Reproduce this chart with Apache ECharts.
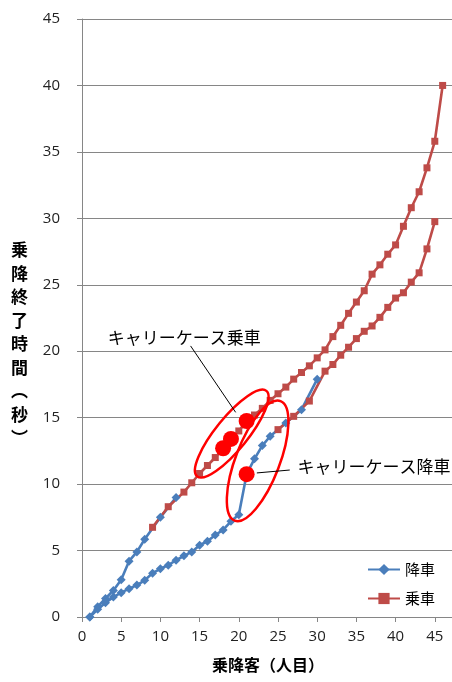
<!DOCTYPE html>
<html>
<head>
<meta charset="utf-8">
<script src="https://cdn.jsdelivr.net/npm/echarts@6/dist/echarts.min.js"></script>
<style>
  html, body { margin: 0; padding: 0; background: #ffffff; }
  #chart { width: 452px; height: 682px; }
</style>
</head>
<body>
<div id="chart"></div>
<script>
// ---- Data: passenger order (人目) vs. completion time (秒) ----
// Run 1: alighting passengers (降車)
const alightRun1X = [1, 2, 3, 4, 5, 6, 7, 8, 10, 12];
const alightRun1Y = [0, 0.78, 1.4, 2.0, 2.8, 4.2, 4.9, 5.85, 7.5, 9.0];
// Run 1: boarding passengers (乗車)
const boardRun1X = [9, 11, 13, 14, 15, 16, 17, 18, 19, 20, 21, 22, 23, 24, 25, 26, 27, 28, 29, 30,
                    31, 32, 33, 34, 35, 36, 37, 38, 39, 40, 41, 42, 43, 44, 45, 46];
const boardRun1Y = [6.75, 8.3, 9.4, 10.1, 10.8, 11.4, 12.0, 12.7, 13.4, 14.0, 14.7, 15.2, 15.7, 16.3, 16.8, 17.3, 17.9, 18.4, 18.9, 19.5,
                    20.1, 21.1, 21.95, 22.85, 23.7, 24.55, 25.8, 26.5, 27.3, 28.0, 29.4, 30.8, 32.0, 33.8, 35.8, 40.0];
// Run 2: alighting passengers (降車)
const alightRun2X = [1, 2, 3, 4, 5, 6, 7, 8, 9, 10, 11, 12, 13, 14, 15, 16, 17, 18, 19, 20,
                     21, 22, 23, 24, 26, 28, 30];
const alightRun2Y = [0, 0.58, 1.08, 1.5, 1.83, 2.13, 2.4, 2.76, 3.3, 3.63, 3.9, 4.27, 4.6, 4.9, 5.4, 5.7, 6.17, 6.55, 7.2, 7.7,
                     10.75, 11.9, 12.9, 13.6, 14.6, 15.6, 17.9];
// Run 2: boarding passengers (乗車)
const boardRun2X = [25, 27, 29, 31, 32, 33, 34, 35, 36, 37, 38, 39, 40, 41, 42, 43, 44, 45];
const boardRun2Y = [14.1, 15.1, 16.25, 18.5, 19.0, 19.7, 20.3, 20.95, 21.5, 21.9, 22.55, 23.3, 24.0, 24.4, 25.2, 25.9, 27.7, 29.75];

// Passengers with a carry case (キャリーケース)
const caseBoardX = [18, 19, 21];
const caseBoardY = [12.7, 13.4, 14.75];
const caseAlightX = [21];
const caseAlightY = [10.75];

// Axis ticks
const xTicks = { min: 0, max: 50, step: 5 };
const yTicks = { min: 0, max: 45, step: 5 };

const seriesNames = ['降車', '乗車'];
const yTitle = '乗\n降\n終\n了\n時\n間\n︵\n秒\n︶';

const pairs = (xs, ys) => xs.map((x, i) => [x, ys[i]]);

const BLUE = '#4A7EBB';
const RED = '#BE4B48';
const MARK = '#FF0000';
const CJK = '"Noto Sans CJK JP", "Noto Sans", sans-serif';
const NUM = '"Open Sans", "Noto Sans", sans-serif';

function lineSeries(name, color, symbol, size, data) {
  return {
    name: name,
    type: 'line',
    data: data,
    symbol: symbol,
    symbolSize: size,
    showSymbol: true,
    smooth: false,
    lineStyle: { color: color, width: 2.6 },
    itemStyle: { color: color, borderWidth: 0 },
    emphasis: { disabled: true },
    animation: false
  };
}

const chart = echarts.init(document.getElementById('chart'), null, { renderer: 'canvas' });

chart.setOption({
  backgroundColor: '#ffffff',
  animation: false,
  grid: { left: 82, top: 19, bottom: 65, right: -22, containLabel: false, outerBoundsMode: 'none' },
  legend: {
    data: seriesNames,
    orient: 'vertical',
    left: 362,
    top: 557,
    itemWidth: 32,
    itemHeight: 14,
    itemGap: 14,
    textStyle: { fontFamily: CJK, fontSize: 15, color: '#000' }
  },
  xAxis: {
    type: 'value',
    min: xTicks.min,
    max: xTicks.max,
    interval: xTicks.step,
    name: '乗降客（人目）',
    nameLocation: 'middle',
    nameGap: 40,
    nameTextStyle: { fontFamily: CJK, fontSize: 16, fontWeight: 'bold', color: '#000', padding: [0, 20, 0, 0] },
    axisLine: { onZero: false, lineStyle: { color: '#868686', width: 1 } },
    axisTick: { show: true, length: 5, lineStyle: { color: '#868686' } },
    axisLabel: { fontFamily: NUM, fontSize: 15, color: '#222', margin: 12 },
    splitLine: { show: false }
  },
  yAxis: {
    type: 'value',
    min: yTicks.min,
    max: yTicks.max,
    interval: yTicks.step,
    axisLine: { show: true, lineStyle: { color: '#868686', width: 1 } },
    axisTick: { show: true, length: 5, lineStyle: { color: '#868686' } },
    axisLabel: { fontFamily: NUM, fontSize: 15, color: '#222', margin: 22 },
    splitLine: { show: true, lineStyle: { color: '#868686', width: 1 } }
  },
  series: [
    lineSeries('降車', BLUE, 'diamond', 9, pairs(alightRun1X, alightRun1Y)),
    lineSeries('降車', BLUE, 'diamond', 9, pairs(alightRun2X, alightRun2Y)),
    lineSeries('乗車', RED, 'rect', 7, pairs(boardRun1X, boardRun1Y)),
    lineSeries('乗車', RED, 'rect', 7, pairs(boardRun2X, boardRun2Y)),
    {
      name: 'キャリーケース',
      type: 'scatter',
      data: pairs(caseBoardX, caseBoardY).concat(pairs(caseAlightX, caseAlightY)),
      symbol: 'circle',
      symbolSize: 16,
      itemStyle: { color: MARK, opacity: 1 },
      emphasis: { disabled: true },
      z: 5
    }
  ]
});

// ---- Callouts: ellipses around the carry-case passengers, with labels ----
// centre / label anchors in data units; radii in pixels; tilt in degrees
const callouts = [
  { text: 'キャリーケース乗車', center: [19.1, 13.8], rx: 55, ry: 16, tilt: 51,
    label: [3.3, 21.0], leader: [[13.85, 20.4], [19.6, 15.4]] },
  { text: 'キャリーケース降車', center: [22.4, 11.75], rx: 64, ry: 22, tilt: 69,
    label: [27.5, 11.3], leader: [[22.3, 10.84], [26.5, 11.06]] }
];

const toPx = (p) => chart.convertToPixel({ xAxisIndex: 0, yAxisIndex: 0 }, p);

const elements = [];
callouts.forEach((c) => {
  const ctr = toPx(c.center);
  elements.push({
    type: 'ellipse',
    x: ctr[0], y: ctr[1],
    rotation: c.tilt * Math.PI / 180,
    shape: { cx: 0, cy: 0, rx: c.rx, ry: c.ry },
    style: { fill: 'none', stroke: MARK, lineWidth: 2.5 },
    z: 10, silent: true
  });
  const a = toPx(c.leader[0]);
  const b = toPx(c.leader[1]);
  elements.push({
    type: 'line',
    shape: { x1: a[0], y1: a[1], x2: b[0], y2: b[1] },
    style: { stroke: '#000', lineWidth: 1 },
    z: 10, silent: true
  });
  const t = toPx(c.label);
  elements.push({
    type: 'text',
    x: t[0], y: t[1],
    style: { text: c.text, font: '17px ' + CJK, fill: '#000', textAlign: 'left', textVerticalAlign: 'middle' },
    z: 10, silent: true
  });
});

// Vertical y-axis title, stacked one character per line
elements.push({
  type: 'text',
  left: 11,
  top: 238,
  style: {
    text: yTitle,
    fontFamily: CJK, fontSize: 17, fontWeight: 'bold',
    lineHeight: 23.5, fill: '#000', align: 'center'
  },
  silent: true
});

chart.setOption({ graphic: { elements: elements } });
</script>
</body>
</html>
